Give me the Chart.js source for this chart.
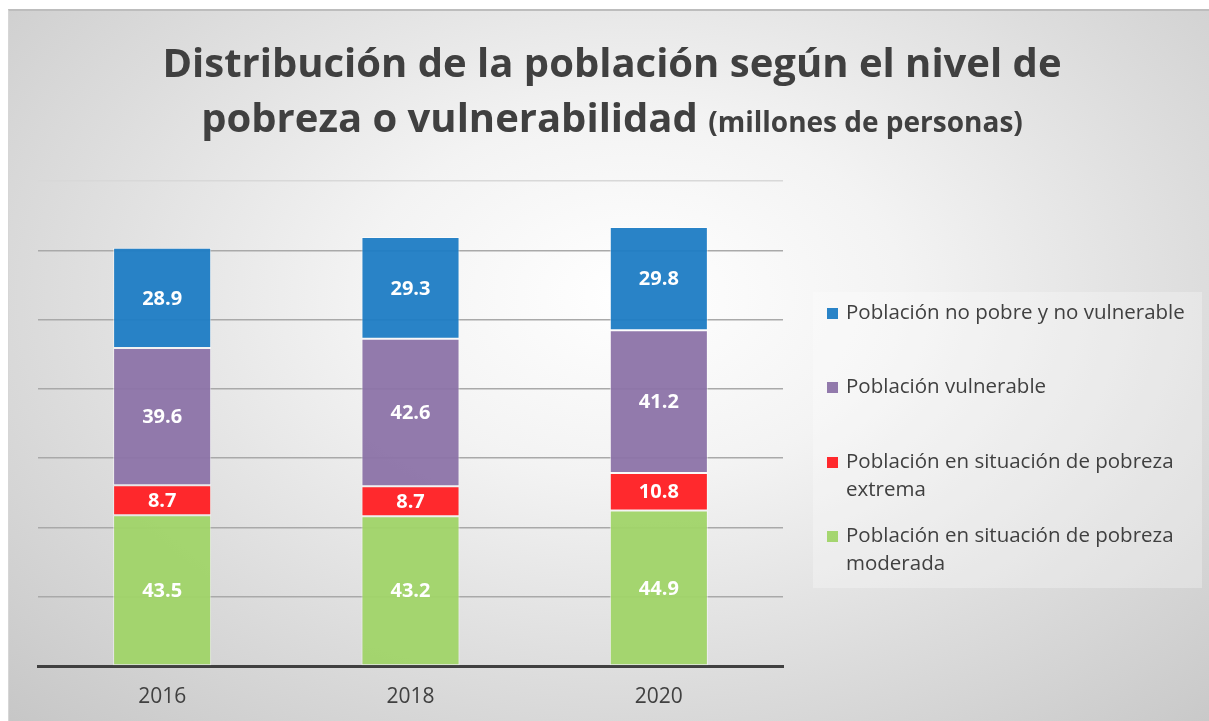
<!DOCTYPE html>
<html>
<head>
<meta charset="utf-8">
<script src="https://cdn.jsdelivr.net/npm/chart.js@4.4.1/dist/chart.umd.min.js"></script>
<style>
  html, body { margin: 0; padding: 0; background: #ffffff; }
  #panel {
    position: absolute; left: 8px; top: 9px; width: 1201px; height: 712px;
    border-top: 2px solid #bdbdbd; border-left: 1px solid #d6d6d6; box-sizing: border-box;
    background: radial-gradient(ellipse 75% 85% at 52% 40%, #ffffff 0%, #f3f3f3 30%, #dcdcdc 65%, #c6c6c6 100%);
  }
  #wrap { position: absolute; left: 0; top: 0; width: 1209px; height: 721px; }
</style>
</head>
<body>
<div id="panel"></div>
<div id="wrap"><canvas id="chart" width="1209" height="721"></canvas></div>
<script>
const years = ['2016', '2018', '2020'];
const moderada = [43.5, 43.2, 44.9];
const extrema = [8.7, 8.7, 10.8];
const vulnerable = [39.6, 42.6, 41.2];
const noPobre = [28.9, 29.3, 29.8];
const seriesNames = [
  'Población en situación de pobreza moderada',
  'Población en situación de pobreza extrema',
  'Población vulnerable',
  'Población no pobre y no vulnerable'
];
const colors = ['rgba(160,212,104,0.95)', 'rgba(255,34,38,0.97)', 'rgba(140,115,168,0.95)', 'rgba(30,124,196,0.95)'];

const textColor = '#404040';
const fontFamily = '"Open Sans"';

// title with two sizes on the second line
const titlePlugin = {
  id: 'twoSizeTitle',
  afterDraw(chart) {
    const ctx = chart.ctx;
    const cx = 612;
    ctx.save();
    ctx.fillStyle = textColor;
    ctx.textBaseline = 'alphabetic';
    ctx.textAlign = 'center';
    ctx.font = 'bold 40px ' + fontFamily;
    ctx.fillText('Distribución de la población según el nivel de', cx, 77);
    const a = 'pobreza o vulnerabilidad ';
    const b = '(millones de personas)';
    const wa = ctx.measureText(a).width;
    ctx.font = 'bold 28px ' + fontFamily;
    const wb = ctx.measureText(b).width;
    const x = cx - (wa + wb) / 2;
    ctx.textAlign = 'left';
    ctx.font = 'bold 40px ' + fontFamily;
    ctx.fillText(a, x, 132);
    ctx.font = 'bold 28px ' + fontFamily;
    ctx.fillText(b, x + wa, 132);
    ctx.restore();
  }
};

// value labels inside each segment
const valueLabels = {
  id: 'valueLabels',
  afterDatasetsDraw(chart) {
    const ctx = chart.ctx;
    ctx.save();
    ctx.fillStyle = '#ffffff';
    ctx.font = 'bold 20px ' + fontFamily;
    ctx.textAlign = 'center';
    ctx.textBaseline = 'middle';
    chart.data.datasets.forEach((ds, i) => {
      chart.getDatasetMeta(i).data.forEach((bar, j) => {
        const y = (bar.y + bar.base) / 2;
        ctx.fillText(ds.data[j].toFixed(1), bar.x, y + 1);
      });
    });
    ctx.restore();
  }
};

// legend box on the right, top series first
const sideLegend = {
  id: 'sideLegend',
  afterDraw(chart) {
    const ctx = chart.ctx;
    const boxX = 813, boxY = 292, boxW = 389, boxH = 296;
    ctx.save();
    ctx.fillStyle = 'rgba(255,255,255,0.28)';
    ctx.fillRect(boxX, boxY, boxW, boxH);
    ctx.font = '20.5px ' + fontFamily;
    ctx.textBaseline = 'middle';
    const rows = [313, 387, 462, 536];
    const maxW = 355;
    const items = chart.data.datasets.map((d, i) => i).reverse();
    items.forEach((idx, k) => {
      const ds = chart.data.datasets[idx];
      const y = rows[k];
      ctx.fillStyle = ds.backgroundColor;
      ctx.fillRect(827, y - 5, 11, 11);
      ctx.fillStyle = textColor;
      const words = ds.label.split(' ');
      let line = '';
      let ly = y;
      words.forEach(w => {
        const test = line ? line + ' ' + w : w;
        if (ctx.measureText(test).width > maxW && line) {
          ctx.fillText(line, 846, ly);
          line = w;
          ly += 28;
        } else {
          line = test;
        }
      });
      ctx.fillText(line, 846, ly);
    });
    ctx.restore();
  }
};

const datasets = [moderada, extrema, vulnerable, noPobre].map((vals, i) => ({
  label: seriesNames[i],
  data: vals,
  backgroundColor: colors[i],
  borderColor: 'rgba(255,255,255,0.55)',
  borderWidth: 1,
  borderSkipped: false,
  categoryPercentage: 1,
  barPercentage: 0.395
}));

new Chart(document.getElementById('chart'), {
  type: 'bar',
  data: { labels: years, datasets: datasets },
  options: {
    responsive: false,
    animation: false,
    layout: { padding: { top: 181, left: 38, right: 426, bottom: 12 } },
    plugins: {
      legend: { display: false },
      title: { display: false },
      tooltip: { enabled: false }
    },
    scales: {
      x: {
        stacked: true,
        afterFit: (scale) => { scale.height = 43; },
        grid: { display: false, drawTicks: false },
        border: { display: true, color: '#404040', width: 3 },
        ticks: { color: textColor, font: { family: 'Open Sans', size: 21 }, padding: 18 }
      },
      y: {
        stacked: true,
        min: 0,
        max: 140,
        ticks: { display: false, stepSize: 20 },
        border: { display: false },
        grid: {
          drawTicks: false,
          lineWidth: 1.5,
          color: (c) => (c.tick && c.tick.value === 140 ? '#d8d8d8' : '#a9a9a9')
        }
      }
    }
  },
  plugins: [titlePlugin, valueLabels, sideLegend]
});
</script>
</body>
</html>
